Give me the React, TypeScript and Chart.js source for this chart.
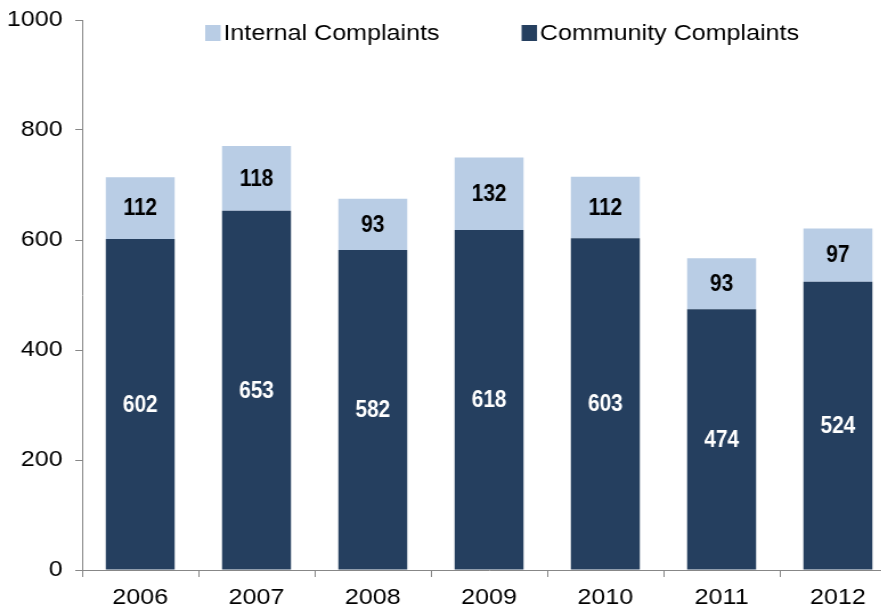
import React, { useEffect, useRef } from 'react';
import { Chart, registerables } from 'chart.js';

Chart.register(...registerables);

const years = ['2006', '2007', '2008', '2009', '2010', '2011', '2012'];
const communityComplaints = [602, 653, 582, 618, 603, 474, 524];
const internalComplaints = [112, 118, 93, 132, 112, 93, 97];
const yMin = 0;
const yMax = 1000;
const yStep = 200;

const STRETCH = 1.14;
const FONT = '"Liberation Sans", Arial, sans-serif';
const DARK = '#253F5F';
const LIGHT = '#B9CDE5';
const AXIS = '#878787';

const legendPlugin = {
  id: 'customLegend',
  afterDraw(chart: any) {
    const ctx = chart.ctx;
    const area = chart.chartArea;
    const items = chart.data.datasets
      .map((d: any) => ({ label: d.label, color: d.backgroundColor }))
      .reverse();
    ctx.save();
    ctx.font = `22px ${FONT}`;
    ctx.textBaseline = 'middle';
    ctx.textAlign = 'left';
    let x = area.left + 108;
    const cy = area.top + 13;
    items.forEach((it: any) => {
      ctx.fillStyle = it.color;
      ctx.fillRect(x, cy - 8, 13.5, 16);
      ctx.fillStyle = '#000';
      const tx = x + 16;
      ctx.fillText(it.label, tx, cy + 1);
      x = tx + ctx.measureText(it.label).width + 72;
    });
    ctx.restore();
  },
};

const valueLabelPlugin = {
  id: 'valueLabels',
  afterDatasetsDraw(chart: any) {
    const ctx = chart.ctx;
    ctx.save();
    ctx.font = `bold 23px ${FONT}`;
    ctx.textAlign = 'center';
    ctx.textBaseline = 'middle';
    chart.data.datasets.forEach((ds: any, di: number) => {
      const meta = chart.getDatasetMeta(di);
      meta.data.forEach((el: any, i: number) => {
        const v = ds.data[i];
        const { x, y, base } = el.getProps(['x', 'y', 'base'], true);
        const cy = (y + base) / 2;
        ctx.save();
        ctx.translate(x, cy);
        ctx.scale(0.8, 1);
        ctx.fillStyle = di === 0 ? '#ffffff' : '#000000';
        ctx.fillText(String(v), 0, 1);
        ctx.restore();
      });
    });
    ctx.restore();
  },
};

export default function App() {
  const ref = useRef<HTMLCanvasElement>(null);

  useEffect(() => {
    if (!ref.current) return;
    const chart = new Chart(ref.current, {
      type: 'bar',
      data: {
        labels: years,
        datasets: [
          {
            label: 'Community Complaints',
            data: communityComplaints,
            backgroundColor: DARK,
            barPercentage: 0.593,
            categoryPercentage: 1,
          },
          {
            label: 'Internal Complaints',
            data: internalComplaints,
            backgroundColor: LIGHT,
            barPercentage: 0.593,
            categoryPercentage: 1,
          },
        ],
      },
      options: {
        animation: false,
        responsive: true,
        maintainAspectRatio: false,
        layout: { padding: { top: 20, right: 4, left: 0, bottom: 0 } },
        plugins: {
          legend: { display: false },
          tooltip: { enabled: false },
        },
        scales: {
          x: {
            stacked: true,
            afterFit: (s: any) => {
              s.height = 41;
            },
            grid: {
              display: true,
              drawOnChartArea: false,
              drawTicks: true,
              tickLength: 7,
              offset: true,
              color: AXIS,
            },
            border: { display: true, color: AXIS },
            ticks: {
              color: '#000',
              padding: 8,
              font: { family: FONT, size: 22 },
              maxRotation: 0,
            },
          },
          y: {
            stacked: true,
            min: yMin,
            max: yMax,
            afterFit: (s: any) => {
              s.width = 72;
              s.paddingTop = 0;
              s.paddingBottom = 0;
            },
            grid: {
              display: true,
              drawOnChartArea: false,
              drawTicks: true,
              tickLength: 6,
              color: AXIS,
            },
            border: { display: true, color: AXIS },
            ticks: {
              stepSize: yStep,
              color: '#000',
              padding: 11,
              font: { family: FONT, size: 22 },
              callback: (v: any) => String(v),
            },
          },
        },
      },
      plugins: [valueLabelPlugin, legendPlugin],
    } as any);
    return () => chart.destroy();
  }, []);

  return (
    <div
      style={{
        position: 'fixed',
        left: 0,
        top: 0,
        width: 881,
        height: 611,
        overflow: 'hidden',
        background: '#fff',
      }}
    >
      <div
        style={{
          position: 'absolute',
          left: 0,
          top: 0,
          width: 790,
          height: 611,
          transform: `scaleX(${STRETCH})`,
          transformOrigin: '0 0',
        }}
      >
        <canvas ref={ref} />
      </div>
    </div>
  );
}
